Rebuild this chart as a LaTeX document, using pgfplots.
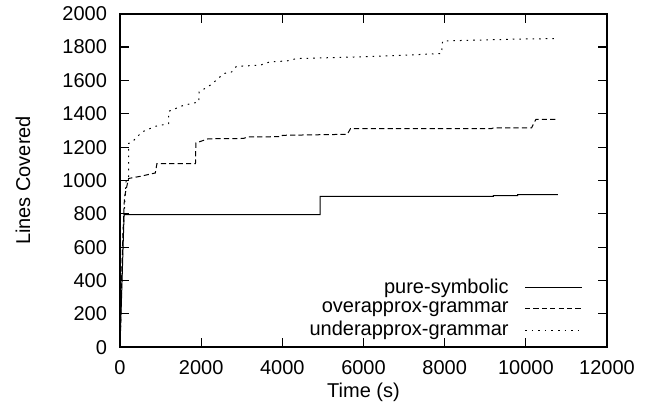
\documentclass[border=0pt]{standalone}
\usepackage{fontspec}
\setmainfont{Liberation Sans}
\usepackage{pgfplots}
\pgfplotsset{compat=1.18}
\begin{document}
\begin{tikzpicture}
\begin{axis}[
  scale only axis,
  width=243.5pt, height=166.75pt,
  xmin=0, xmax=12000, ymin=0, ymax=2000,
  xtick={0,2000,...,12000},
  ytick={0,200,...,2000},
  scaled x ticks=false,
  tick label style={/pgf/number format/1000 sep={}, /pgf/number format/assume math mode=true},
  tick align=inside,
  major tick length=4.5pt,
  axis line style={line width=0.8pt},
  tick style={line width=0.6pt, black},
  xticklabel style={yshift=-3pt},
  yticklabel style={xshift=-3pt},
  xlabel={Time (s)},
  ylabel={Lines Covered},
  xlabel style={at={(axis description cs:0.5,0)}, anchor=center, yshift=-22.5pt},
  ylabel style={at={(axis description cs:-0.199,0.5)}, anchor=center},
  legend style={draw=none, fill=none, at={(0.963,0.0)}, anchor=south east,
    row sep=-1.2pt, font=\normalsize},
  legend cell align=right,
  legend plot pos=right,
  legend image code/.code={\path (0pt,0pt); \draw[#1] (6pt,0pt) -- (34.5pt,0pt);},
]
\addplot[black, line width=0.5pt] coordinates {
  (0,0) (100,795) (4930,795) (4930,905) (9200,905) (9200,910)
  (9800,910) (9800,915) (10790,915)
};
\addlegendentry{pure-symbolic}
\addplot[black, line width=0.5pt, dash pattern=on 2.6pt off 1.6pt] coordinates {
  (0,0) (60,600) (110,900) (210,1012) (500,1025) (870,1045) (910,1101)
  (1860,1101) (1870,1225) (2170,1250) (3040,1252) (3150,1261) (3980,1263)
  (4000,1271) (5600,1277) (5680,1311) (9150,1311) (9200,1315) (10140,1315)
  (10200,1345) (10250,1367) (10790,1367)
};
\addlegendentry{overapprox-grammar}
\addplot[black, line width=0.5pt, dash pattern=on 0.8pt off 2.5pt] coordinates {
  (0,0) (80,700) (150,1000) (210,1012) (210,1222) (300,1231) (540,1291)
  (870,1325) (1200,1341) (1200,1415) (1570,1451) (1940,1471) (1950,1531)
  (2220,1571) (2420,1611) (2550,1641) (2750,1651) (2870,1685) (3450,1691)
  (3690,1711) (4110,1717) (4350,1731) (5830,1741) (6530,1747) (7920,1761)
  (7950,1837) (9000,1843) (9970,1849) (10790,1851)
};
\addlegendentry{underapprox-grammar}
\end{axis}
\path (current axis.south west) ++(-60pt,-33pt);
\path (current axis.north east) ++(22pt,6.75pt);
\end{tikzpicture}
\end{document}
